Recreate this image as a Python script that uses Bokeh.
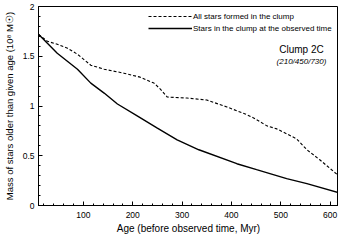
from bokeh.plotting import figure
from bokeh.models import FixedTicker, Legend, LegendItem, Label, ColumnDataSource
from bokeh.embed import file_html
from bokeh.resources import INLINE

# ---- data ----
age_all = [9, 27, 47, 68, 88, 115, 142, 182, 215, 243, 256, 270, 310, 350, 391, 428, 445, 472, 492, 512, 532, 553, 579, 617]
mass_all = [1.72, 1.65, 1.62, 1.58, 1.52, 1.41, 1.37, 1.33, 1.29, 1.23, 1.17, 1.09, 1.08, 1.06, 0.99, 0.92, 0.88, 0.80, 0.77, 0.72, 0.67, 0.56, 0.46, 0.30]

age_obs = [9, 27, 47, 88, 115, 142, 169, 209, 249, 290, 334, 411, 451, 478, 512, 553, 617]
mass_obs = [1.72, 1.63, 1.53, 1.37, 1.23, 1.13, 1.02, 0.90, 0.78, 0.66, 0.56, 0.42, 0.36, 0.32, 0.27, 0.22, 0.13]

x_major = [100, 200, 300, 400, 500, 600]
x_minor = [20, 40, 60, 80, 120, 140, 160, 180, 220, 240, 260, 280, 320, 340, 360, 380,
           420, 440, 460, 480, 520, 540, 560, 580, 600]
y_major = [0, 0.5, 1, 1.5, 2]
y_minor = [0.1, 0.2, 0.3, 0.4, 0.6, 0.7, 0.8, 0.9, 1.1, 1.2, 1.3, 1.4, 1.6, 1.7, 1.8, 1.9]
y_tick_labels = {0: "0", 0.5: "0.5", 1: "1", 1.5: "1.5", 2: "2"}

series_names = ["All stars formed in the clump", "Stars in the clump at the observed time"]
title_text = "Clump 2C"
subtitle_text = "(210/450/730)"
title_pos = (542, 1.57)
subtitle_pos = (542, 1.45)

FONT = "Liberation Sans"

p = figure(frame_width=300, frame_height=199, x_range=(9, 617), y_range=(0, 2),
           output_backend="svg", toolbar_location=None,
           min_border_left=33, min_border_right=0, min_border_top=7, min_border_bottom=0,
           margin=(-1, 0, 0, 0))
p.background_fill_color = "white"
p.border_fill_color = "white"
p.outline_line_color = "black"
p.outline_line_width = 1
p.grid.visible = False

src_all = ColumnDataSource(dict(x=age_all, y=mass_all))
src_obs = ColumnDataSource(dict(x=age_obs, y=mass_obs))
r_all = p.line("x", "y", source=src_all, line_color="black", line_width=1.1, line_dash="3 2")
r_obs = p.line("x", "y", source=src_obs, line_color="black", line_width=1.4)

xa = p.xaxis[0]
xa.ticker = FixedTicker(ticks=x_major, minor_ticks=x_minor)
xa.axis_label = "Age (before observed time, Myr)"
ya = p.yaxis[0]
ya.ticker = FixedTicker(ticks=y_major, minor_ticks=y_minor)
ya.major_label_overrides = y_tick_labels
ya.axis_label = "Mass of stars older than given age (10\u2078 M\u2609)"

for ax in (xa, ya):
    ax.major_tick_in = 4
    ax.major_tick_out = 0
    ax.minor_tick_in = 2
    ax.minor_tick_out = 0
    ax.axis_line_color = "black"
    ax.major_tick_line_color = "black"
    ax.minor_tick_line_color = "black"
    ax.major_label_text_font = FONT
    ax.major_label_text_font_size = "8.5px"
    ax.major_label_text_color = "black"
    ax.axis_label_text_font = FONT
    ax.axis_label_text_font_style = "normal"
    ax.axis_label_text_color = "black"
xa.axis_label_text_font_size = "10px"
ya.axis_label_text_font_size = "9.5px"
xa.major_label_standoff = 6
xa.axis_label_standoff = 2
ya.major_label_standoff = 4
ya.axis_label_standoff = 5

legend = Legend(items=[LegendItem(label=series_names[0], renderers=[r_all]),
                       LegendItem(label=series_names[1], renderers=[r_obs])],
                location=(110, 172), orientation="vertical")
legend.border_line_color = None
legend.background_fill_alpha = 0
legend.padding = 0
legend.margin = 0
legend.spacing = 2
legend.glyph_width = 44
legend.glyph_height = 10
legend.label_height = 10
legend.label_standoff = 1
legend.label_text_font = FONT
legend.label_text_font_size = "8px"
legend.label_text_color = "black"
p.add_layout(legend)

p.add_layout(Label(x=title_pos[0], y=title_pos[1], text=title_text, text_align="center",
                   text_baseline="middle", text_font=FONT, text_font_size="10px", text_color="black"))
p.add_layout(Label(x=subtitle_pos[0], y=subtitle_pos[1], text=subtitle_text, text_align="center",
                   text_baseline="middle", text_font=FONT, text_font_size="8px",
                   text_font_style="italic", text_color="black"))

open("out.html", "w").write(file_html(p, INLINE))
